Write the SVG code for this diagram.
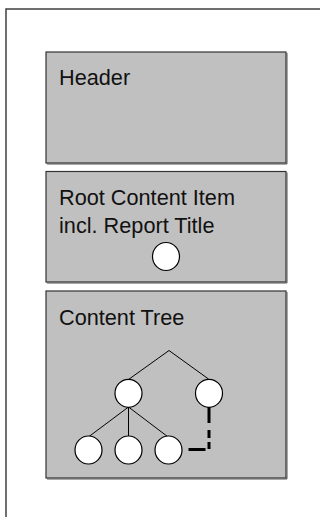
<svg xmlns="http://www.w3.org/2000/svg" width="320" height="517" viewBox="0 0 320 517">
  <style>
    .box { fill: #c0c0c0; stroke: #333333; stroke-width: 1.2; }
    .shadow { fill: none; stroke: #555555; stroke-width: 1; }
    .lbl { font-family: "Liberation Sans", Arial, sans-serif; font-size: 21.7px; fill: #111111; }
    .node { fill: #ffffff; stroke: #000000; stroke-width: 1.2; }
    .edge { fill: none; stroke: #000000; stroke-width: 1; }
    .dash { fill: none; stroke: #000000; stroke-width: 3; stroke-dasharray: 16 7 8 4 7 4 17 100; }
  </style>
  <rect x="0" y="0" width="320" height="517" fill="#ffffff"/>
  <rect id="frame" x="6" y="9" width="400" height="540" fill="none" stroke="#333333" stroke-width="1.4"/>

  <g id="header">
    <rect class="box" x="46" y="52" width="240" height="111"/>
    <polyline class="shadow" points="47,164 287,164 287,53"/>
    <text class="lbl" x="59" y="85">Header</text>
  </g>

  <g id="root-content-item">
    <rect class="box" x="46" y="171.5" width="240" height="110.5"/>
    <polyline class="shadow" points="47,283 287,283 287,172.5"/>
    <text class="lbl" x="59" y="205">Root Content Item</text>
    <text class="lbl" x="59" y="232.7">incl. Report Title</text>
    <ellipse class="node" cx="166" cy="256.5" rx="13.5" ry="14"/>
  </g>

  <g id="content-tree">
    <rect class="box" x="46" y="291" width="240" height="187"/>
    <polyline class="shadow" points="47,479 287,479 287,292"/>
    <text class="lbl" x="59" y="325">Content Tree</text>
  </g>

  <g id="connectors">
    <polyline class="edge" points="128.5,379.5 169,350.5 208.5,379"/>
    <line class="edge" x1="128.5" y1="407" x2="89" y2="436.5"/>
    <line class="edge" x1="128.5" y1="407" x2="128.5" y2="436"/>
    <line class="edge" x1="128.5" y1="407" x2="167.5" y2="436.5"/>
    <path class="dash" d="M209,407 V449.5 H187"/>
  </g>

  <g id="tree-nodes">
    <ellipse id="n-left" class="node" cx="128.5" cy="393.3" rx="13.5" ry="14"/>
    <ellipse id="n-right" class="node" cx="209" cy="393.3" rx="13.5" ry="14"/>
    <ellipse id="n-bl" class="node" cx="88.5" cy="450" rx="13.5" ry="14"/>
    <ellipse id="n-bm" class="node" cx="128.5" cy="450" rx="13.5" ry="14"/>
    <ellipse id="n-br" class="node" cx="168.5" cy="450" rx="13.5" ry="14"/>
  </g>
</svg>
